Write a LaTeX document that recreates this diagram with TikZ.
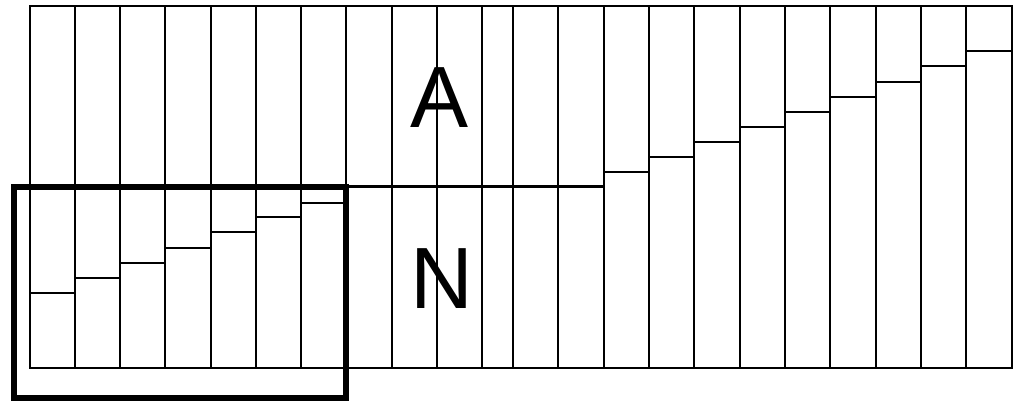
\documentclass[tikz,border=0pt]{standalone}
\usepackage{fontspec}
\setmainfont{Liberation Sans}
\tikzset{bar/.style={draw,line width=2pt},
 lvl/.style={draw,line width=2.8pt},
 frame/.style={draw,line width=6pt},
 big/.style={font=\fontsize{87}{87}\selectfont,inner sep=0pt}}
\begin{document}
\begin{tikzpicture}[x=1pt,y=-1pt]
\useasboundingbox (0,0) rectangle (1015,402);
\draw[bar] (30,6) rectangle (1012,368);
\foreach \x in {75,120,165,211,256,301,346,392,437,482,513,558,604,649,694,740,785,830,876,921,966}
 \draw[bar] (\x,6)--(\x,368);
\draw[lvl] (30,186.5)--(604,186.5);
\foreach \a/\b/\y in {30/75/293,75/120/278,120/165/263,165/211/248,211/256/232,256/301/217,301/346/203,
 604/649/172,649/694/157,694/740/142,740/785/127,785/830/112,830/876/97,876/921/82,921/966/66,966/1012/51}
 \draw[lvl] (\a,\y)--(\b,\y);
\draw[frame] (14,187) rectangle (346,398);
\node[big] (a) at (440,98) {A};
\node[big] (n) at (442,279) {N};
\end{tikzpicture}
\end{document}
